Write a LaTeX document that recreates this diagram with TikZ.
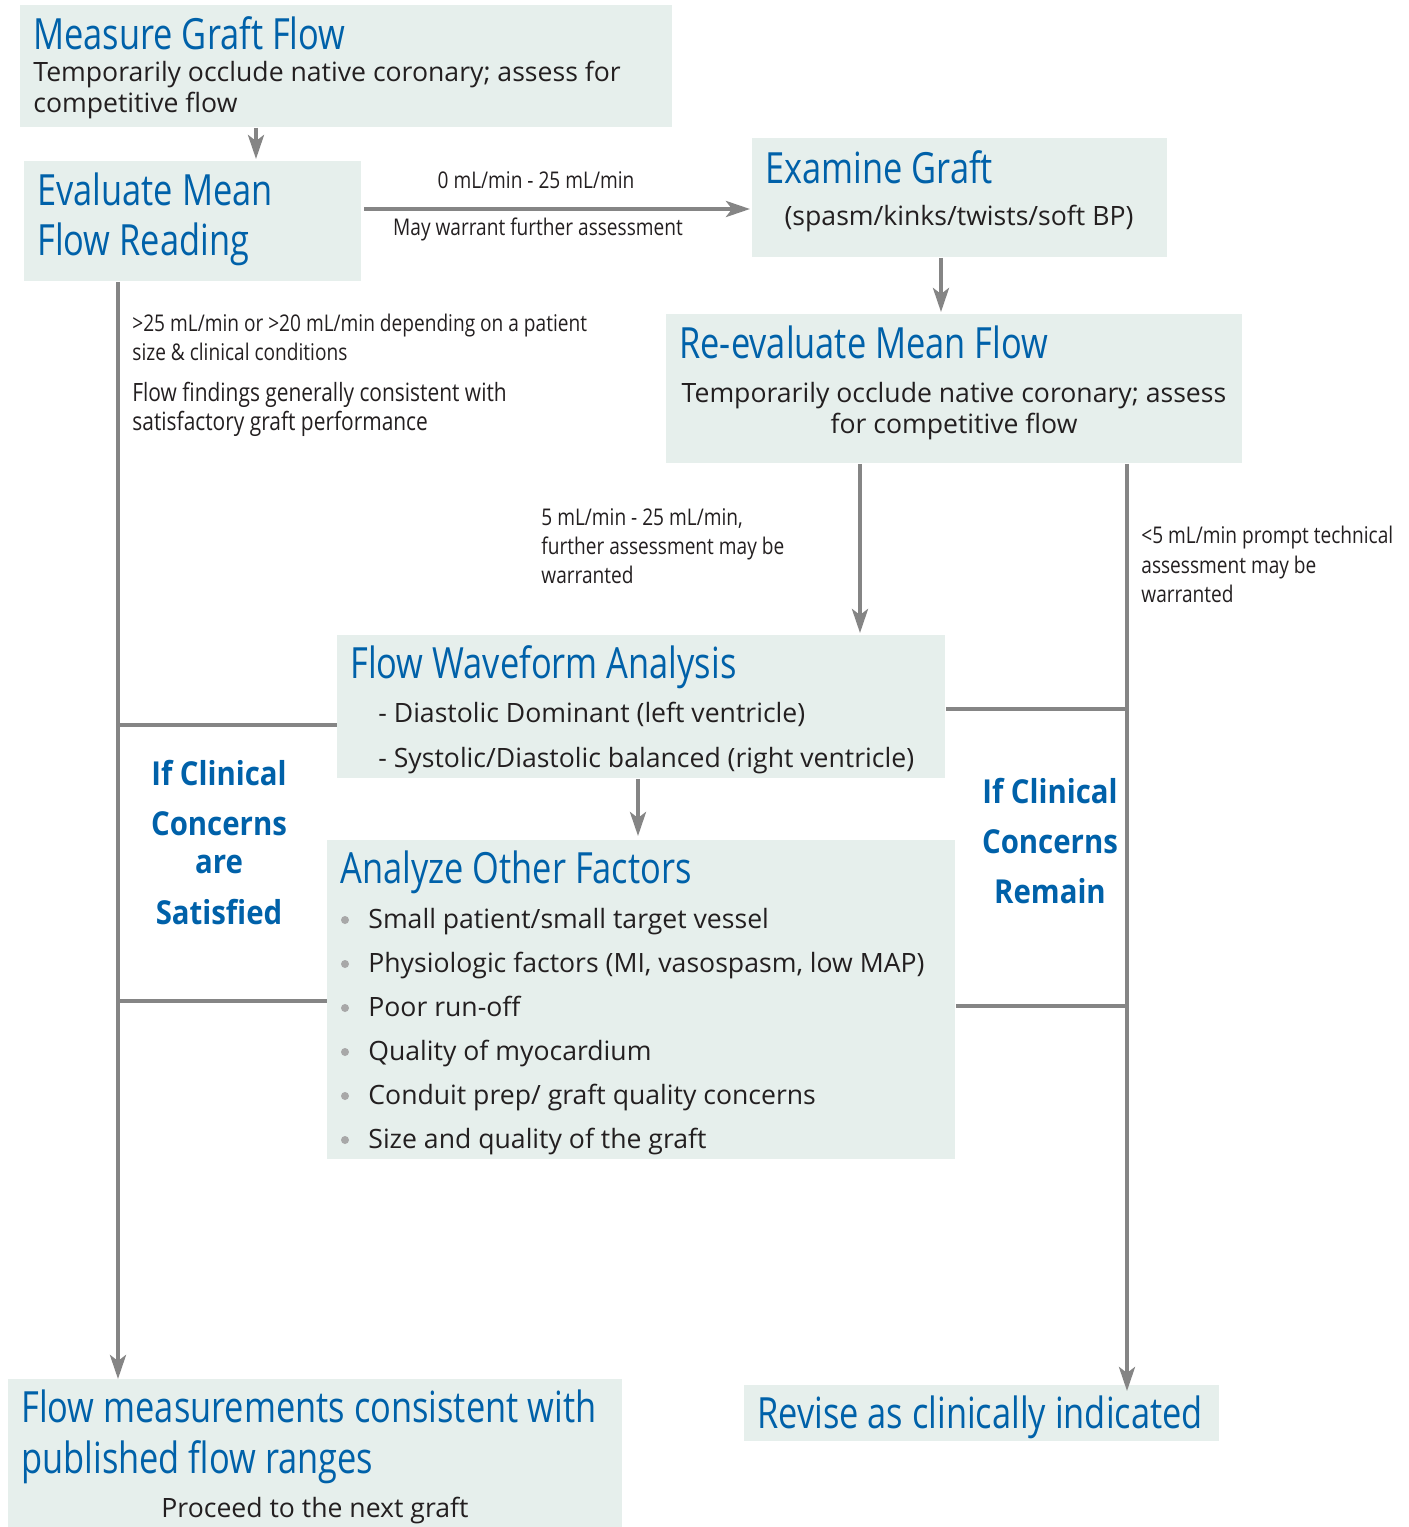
\documentclass[tikz,border=0pt]{standalone}
\usepackage{fontspec}
\setmainfont{Open Sans}
\newfontfamily\condf{Open Sans}[FakeStretch=0.8]
\newfontfamily\lblf{Open Sans}[FakeStretch=0.83]
\newfontfamily\bodyf{Open Sans}
\newfontfamily\condbf{Open Sans Bold}[FakeStretch=0.89]
\usetikzlibrary{arrows.meta}
\definecolor{boxfill}{HTML}{E6EFEC}
\definecolor{hblue}{HTML}{0061A9}
\definecolor{lgray}{HTML}{858585}
\definecolor{txt}{HTML}{231F20}
\definecolor{dotgray}{HTML}{A8A8A8}
\begin{document}
\begin{tikzpicture}[x=0.5pt,y=-0.5pt,
  box/.style={fill=boxfill, draw=none, inner sep=0pt, anchor=north west},
  ttl/.style={anchor=base west, inner sep=0pt, text=hblue, font=\condf\fontsize{21.5}{25}\selectfont},
  bd/.style={anchor=base west, inner sep=0pt, text=txt, font=\bodyf\fontsize{13.3}{16}\selectfont},
  lbl/.style={anchor=base west, inner sep=0pt, text=txt, font=\lblf\fontsize{11.5}{14}\selectfont},
  lblb/.style={anchor=base west, inner sep=0pt, text=txt, font=\lblf\fontsize{12.6}{15}\selectfont},
  cc/.style={anchor=base, inner sep=0pt, text=hblue, font=\condbf\fontsize{16.5}{19}\selectfont},
  ln/.style={draw=lgray, line width=2pt},
  arr/.style={ln, -{Stealth[length=12pt, width=8pt, inset=3pt]}},
  dot/.style={circle, fill=dotgray, inner sep=0pt, minimum size=4pt}]
\useasboundingbox (0,0) rectangle (1409,1527);

% boxes
\node[box, minimum width=326pt, minimum height=61pt] (b1) at (20,5) {};
\node[box, minimum width=168.5pt, minimum height=60pt] (b2) at (24,161) {};
\node[box, minimum width=207.5pt, minimum height=59.5pt] (b3) at (752,138) {};
\node[box, minimum width=288pt, minimum height=74.5pt] (b4) at (666,314) {};
\node[box, minimum width=304pt, minimum height=71.5pt] (b5) at (337,635) {};
\node[box, minimum width=314pt, minimum height=159.5pt] (b6) at (327,840) {};
\node[box, minimum width=307pt, minimum height=74pt] (b7) at (8,1379) {};
\node[box, minimum width=237.5pt, minimum height=28pt] (b8) at (744,1385) {};

% junction coordinates
\coordinate (xa) at (256,0);
\coordinate (xb) at (941,0);
\coordinate (xc) at (860,0);
\coordinate (xd) at (638,0);
\coordinate (xl) at (118,0);
\coordinate (xr) at (1127,0);
\coordinate (jl1) at (118,725);
\coordinate (jl2) at (118,1001);
\coordinate (jr1) at (1127,709);
\coordinate (jr2) at (1127,1006);
\coordinate (h1) at (364,209);
\coordinate (h2) at (750,209);
\coordinate (lEnd) at (118,1379);
\coordinate (rEnd) at (1127,1391);

% connectors
\draw[arr] (b1.south -| xa) -- ([yshift=1pt]b2.north -| xa);
\draw[arr] (h1) -- (h2);
\draw[arr] (b3.south -| xb) -- ([yshift=1pt]b4.north -| xb);
\draw[arr] (b4.south -| xc) -- ([yshift=1pt]b5.north -| xc);
\draw[arr] (b5.south -| xd) -- ([yshift=2pt]b6.north -| xd);
\draw[arr] (b2.south -| xl) -- (lEnd);
\draw[arr] (b4.south -| xr) -- (rEnd);
\draw[ln] (jl1) -- (jl1 -| b5.west);
\draw[ln] (jl2) -- (jl2 -| b6.west);
\draw[ln] (jr1) -- (jr1 -| b5.east);
\draw[ln] (jr2) -- (jr2 -| b6.east);

% box 1
\node[ttl] (t1) at (33,49) {Measure Graft Flow};
\node[bd] (t1a) at (33,81) {Temporarily occlude native coronary; assess for};
\node[bd] (t1b) at (33,112) {competitive flow};
% box 2
\node[ttl] (t2a) at (37,205) {Evaluate Mean};
\node[ttl] (t2b) at (37,255) {Flow Reading};
% arrow labels
\node[lbl, anchor=base] (l1) at (536,188) {0 mL/min - 25 mL/min};
\node[lbl, anchor=base] (l2) at (538,235) {May warrant further assessment};
% box 3
\node[ttl] (t3) at (765,183) {Examine Graft};
\node[bd, anchor=base] (t3a) at (959,225) {(spasm/kinks/twists/soft BP)};
% box 4
\node[ttl] (t4) at (679,358) {Re-evaluate Mean Flow};
\node[bd, anchor=base] (t4a) at (954,402) {Temporarily occlude native coronary; assess};
\node[bd, anchor=base] (t4b) at (954,433) {for competitive flow};
% left labels
\node[lbl] (ll1) at (132,331) {>25 mL/min or >20 mL/min depending on a patient};
\node[lbl] (ll2) at (132,360) {size \& clinical conditions};
\node[lblb] (ll3) at (132,401) {Flow findings generally consistent with};
\node[lblb] (ll4) at (132,430) {satisfactory graft performance};
% middle labels
\node[lbl] (ml1) at (541,525) {5 mL/min - 25 mL/min,};
\node[lbl] (ml2) at (541,554) {further assessment may be};
\node[lbl] (ml3) at (541,583) {warranted};
% right labels
\node[lbl] (rl1) at (1141,543) {<5 mL/min prompt technical};
\node[lbl] (rl2) at (1141,573) {assessment may be};
\node[lbl] (rl3) at (1141,602) {warranted};
% box 5
\node[ttl] (t5) at (350,678) {Flow Waveform Analysis};
\node[bd] (t5a) at (378,722) {- Diastolic Dominant (left ventricle)};
\node[bd] (t5b) at (378,767) {- Systolic/Diastolic balanced (right ventricle)};
% clinical concerns
\node[cc] (c1) at (219,785) {If Clinical};
\node[cc] (c2) at (219,835) {Concerns};
\node[cc] (c3) at (219,873) {are};
\node[cc] (c4) at (219,924) {Satisfied};
\node[cc] (c5) at (1050,803) {If Clinical};
\node[cc] (c6) at (1050,853) {Concerns};
\node[cc] (c7) at (1050,903) {Remain};
% box 6
\node[ttl] (t6) at (340,883) {Analyze Other Factors};
\node[bd] (f1) at (368,928) {Small patient/small target vessel};
\node[bd] (f2) at (368,972) {Physiologic factors (MI, vasospasm, low MAP)};
\node[bd] (f3) at (368,1016) {Poor run-off};
\node[bd] (f4) at (368,1060) {Quality of myocardium};
\node[bd] (f5) at (368,1104) {Conduit prep/ graft quality concerns};
\node[bd] (f6) at (368,1148) {Size and quality of the graft};
\node[dot] (d1) at (345,920) {};
\node[dot] (d2) at (345,964) {};
\node[dot] (d3) at (345,1008) {};
\node[dot] (d4) at (345,1052) {};
\node[dot] (d5) at (345,1096) {};
\node[dot] (d6) at (345,1140) {};
% box 7
\node[ttl] (t7a) at (21,1422) {Flow measurements consistent with};
\node[ttl] (t7b) at (21,1473) {published flow ranges};
\node[bd, anchor=base] (t7c) at (315,1517) {Proceed to the next graft};
% box 8
\node[ttl] (t8) at (757,1428) {Revise as clinically indicated};
\end{tikzpicture}
\end{document}
